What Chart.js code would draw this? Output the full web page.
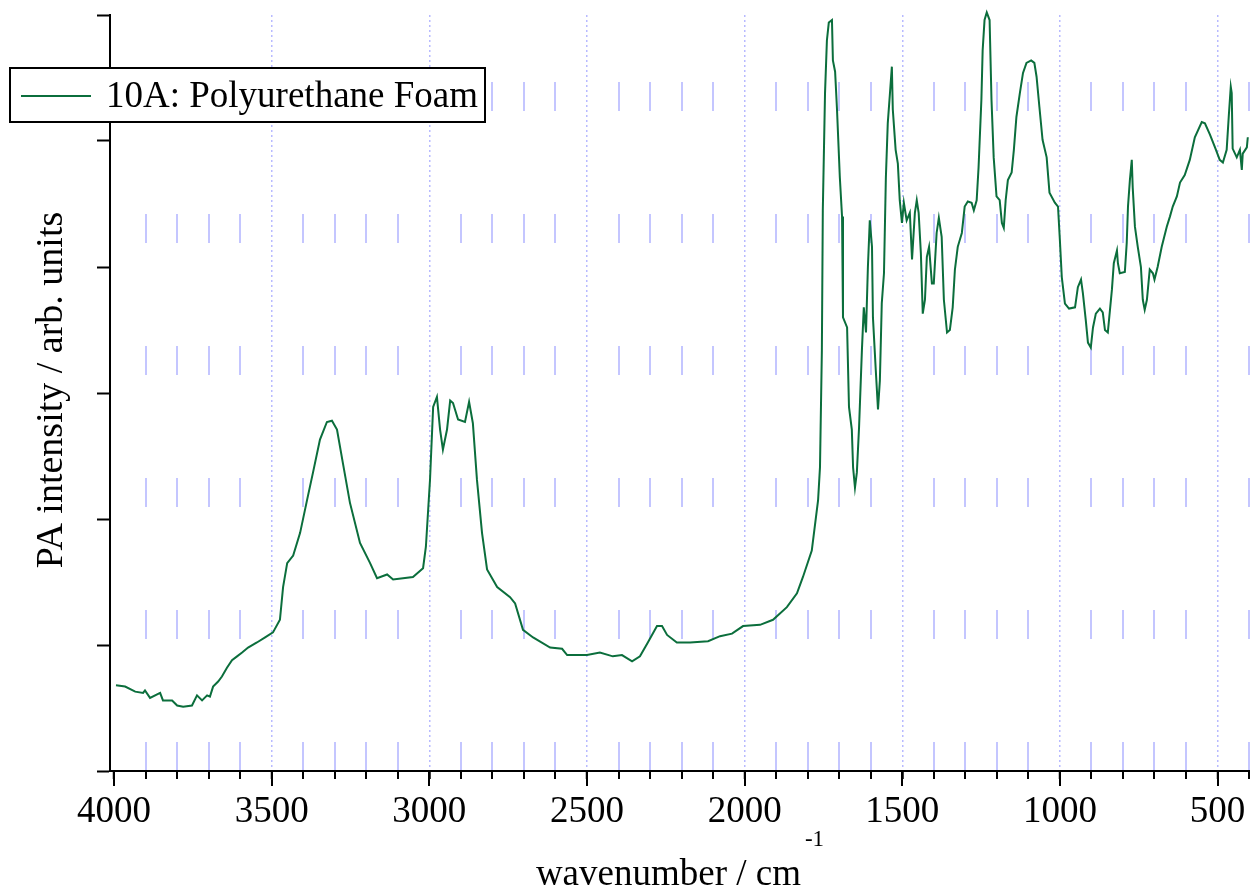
<!DOCTYPE html>
<html>
<head>
<meta charset="utf-8">
<script src="https://cdn.jsdelivr.net/npm/chart.js@4"></script>
<style>
  html, body { margin: 0; padding: 0; background: #fff; }
  #wrap { width: 1250px; height: 889px; position: relative; }
</style>
</head>
<body>
<div id="wrap"><canvas id="c" width="1250" height="889"></canvas></div>
<script>
// ---- data ----
const seriesLabel = '10A: Polyurethane Foam';
const xTitle = 'wavenumber / cm';
const xTitleSup = '-1';
const yTitle = 'PA intensity / arb. units';

const wavenumbers = [
  3994, 3965, 3933, 3908, 3902, 3886, 3854, 3845, 3816, 3800,
  3781, 3753, 3737, 3721, 3705, 3696, 3686, 3670, 3658, 3642,
  3626, 3610, 3594, 3575, 3547, 3521, 3496, 3474, 3464, 3451,
  3432, 3410, 3388, 3369, 3347, 3325, 3309, 3293, 3274, 3252,
  3220, 3188, 3166, 3134, 3115, 3052, 3020, 3011, 2998, 2988,
  2976, 2966, 2957, 2944, 2934, 2925, 2909, 2887, 2874, 2862,
  2849, 2833, 2817, 2785, 2744, 2728, 2703, 2671, 2617, 2579,
  2563, 2500, 2459, 2418, 2389, 2357, 2332, 2307, 2278, 2262,
  2246, 2215, 2173, 2116, 2078, 2040, 2005, 1951, 1910, 1866,
  1834, 1815, 1787, 1767, 1761, 1755, 1752, 1745, 1739, 1733,
  1723, 1720, 1713, 1707, 1698, 1691, 1688, 1675, 1669, 1660,
  1656, 1650, 1644, 1637, 1628, 1622, 1615, 1609, 1603, 1596,
  1593, 1584, 1577, 1571, 1565, 1558, 1552, 1546, 1539, 1533,
  1530, 1521, 1514, 1508, 1501, 1495, 1486, 1476, 1469, 1460,
  1454, 1448, 1441, 1435, 1428, 1422, 1415, 1406, 1400, 1391,
  1384, 1375, 1368, 1358, 1349, 1340, 1333, 1324, 1311, 1302,
  1292, 1280, 1273, 1264, 1258, 1249, 1245, 1239, 1232, 1223,
  1217, 1210, 1201, 1191, 1184, 1178, 1172, 1165, 1153, 1146,
  1138, 1127, 1117, 1106, 1091, 1081, 1074, 1065, 1055, 1042,
  1033, 1016, 1006, 1000, 994, 984, 971, 952, 943, 933,
  927, 918, 911, 902, 895, 886, 873, 864, 857, 848,
  835, 829, 819, 816, 810, 794, 788, 784, 778, 772,
  769, 762, 753, 743, 737, 731, 724, 715, 705, 700,
  690, 677, 661, 651, 642, 629, 619, 604, 588, 572,
  550, 540, 524, 508, 493, 483, 471, 464, 458, 455,
  452, 439, 429, 423, 420, 407, 404
];
const intensity = [
  0.68, 0.67, 0.63, 0.62, 0.64, 0.58, 0.62, 0.56, 0.56, 0.52,
  0.51, 0.52, 0.60, 0.56, 0.60, 0.59, 0.67, 0.71, 0.75, 0.82,
  0.88, 0.91, 0.94, 0.98, 1.02, 1.06, 1.10, 1.20, 1.46, 1.65,
  1.71, 1.89, 2.15, 2.37, 2.63, 2.77, 2.78, 2.71, 2.44, 2.13,
  1.81, 1.65, 1.53, 1.56, 1.52, 1.54, 1.61, 1.78, 2.31, 2.89,
  2.97, 2.71, 2.55, 2.71, 2.94, 2.92, 2.79, 2.77, 2.93, 2.76,
  2.31, 1.89, 1.60, 1.46, 1.38, 1.33, 1.12, 1.06, 0.98, 0.97,
  0.92, 0.92, 0.94, 0.91, 0.92, 0.87, 0.91, 1.02, 1.15, 1.15,
  1.08, 1.02, 1.02, 1.03, 1.07, 1.09, 1.15, 1.16, 1.20, 1.30,
  1.41, 1.54, 1.75, 2.15, 2.41, 3.34, 4.45, 5.38, 5.80, 5.94,
  5.96, 5.64, 5.55, 5.25, 4.71, 4.40, 3.60, 3.52, 2.89, 2.71,
  2.41, 2.25, 2.37, 2.73, 3.34, 3.68, 3.48, 4.00, 4.37, 4.16,
  3.60, 3.18, 2.87, 3.10, 3.71, 3.95, 4.71, 5.14, 5.38, 5.59,
  5.25, 4.93, 4.82, 4.53, 4.35, 4.51, 4.37, 4.43, 4.06, 4.43,
  4.53, 4.43, 4.11, 3.63, 3.74, 4.08, 4.16, 3.87, 3.87, 4.27,
  4.39, 4.24, 3.74, 3.48, 3.50, 3.68, 3.98, 4.16, 4.27, 4.48,
  4.52, 4.51, 4.45, 4.53, 4.79, 5.33, 5.72, 5.96, 6.02, 5.96,
  5.33, 4.87, 4.56, 4.53, 4.35, 4.31, 4.53, 4.69, 4.75, 4.93,
  5.19, 5.38, 5.54, 5.62, 5.64, 5.62, 5.51, 5.27, 5.01, 4.87,
  4.59, 4.51, 4.48, 4.21, 3.92, 3.71, 3.67, 3.68, 3.84, 3.90,
  3.79, 3.58, 3.40, 3.36, 3.52, 3.63, 3.67, 3.64, 3.50, 3.48,
  3.82, 4.03, 4.13, 4.03, 3.95, 3.96, 4.19, 4.48, 4.69, 4.85,
  4.63, 4.32, 4.16, 4.00, 3.74, 3.66, 3.74, 3.98, 3.95, 3.90,
  4.00, 4.16, 4.32, 4.40, 4.48, 4.56, 4.67, 4.73, 4.85, 5.03,
  5.15, 5.14, 5.05, 4.95, 4.85, 4.83, 4.93, 5.21, 5.43, 5.38,
  4.94, 4.87, 4.93, 4.77, 4.90, 4.95, 5.03
];
const xMin = 397, xMax = 4013, xStep = 100, xMajor = 500;
const yMin = 0, yMax = 6, yStep = 1;

// ---- styling ----
const FONT = '"Liberation Serif", "Times New Roman", serif';
const LINE = '#0b6e3c';
const GRID_BLUE = '#c4c6ff';

const points = wavenumbers.map((w, i) => ({ x: w, y: intensity[i] }));
const isMajor = v => Math.abs(v % xMajor) < 1e-6;
const showMajorGrid = v => isMajor(v) && v < 4000;

const extras = {
  id: 'extras',
  afterDraw(chart) {
    const ctx = chart.ctx;
    const xs = chart.scales.x;
    const area = chart.chartArea;
    ctx.save();
    // long ticks at major values
    ctx.strokeStyle = '#000';
    ctx.lineWidth = 2;
    xs.ticks.forEach(t => {
      if (isMajor(t.value)) {
        const px = Math.round(xs.getPixelForValue(t.value));
        ctx.beginPath();
        ctx.moveTo(px, area.bottom);
        ctx.lineTo(px, area.bottom + 15);
        ctx.stroke();
      }
    });
    // x title with superscript
    ctx.fillStyle = '#000';
    ctx.textBaseline = 'alphabetic';
    ctx.font = '37px ' + FONT;
    const w1 = ctx.measureText(xTitle).width;
    ctx.font = '23px ' + FONT;
    const w2 = ctx.measureText(xTitleSup).width;
    const cx = (area.left + area.right) / 2;
    const x0 = cx - (w1 + w2 + 4) / 2;
    ctx.font = '37px ' + FONT;
    ctx.fillText(xTitle, x0, 885);
    ctx.font = '23px ' + FONT;
    ctx.fillText(xTitleSup, x0 + w1 + 4, 846);
    // y title
    ctx.save();
    ctx.translate(52, 390);
    ctx.rotate(-Math.PI / 2);
    ctx.font = '38px ' + FONT;
    ctx.textAlign = 'center';
    ctx.textBaseline = 'middle';
    ctx.fillText(yTitle, 0, 0);
    ctx.restore();
    // legend box
    const ds = chart.data.datasets[0];
    ctx.fillStyle = '#fff';
    ctx.fillRect(10, 68, 475, 54);
    ctx.strokeStyle = '#000';
    ctx.lineWidth = 2;
    ctx.strokeRect(10, 68, 475, 54);
    ctx.strokeStyle = ds.borderColor;
    ctx.lineWidth = 2;
    ctx.beginPath();
    ctx.moveTo(21, 96);
    ctx.lineTo(91, 96);
    ctx.stroke();
    ctx.fillStyle = '#000';
    ctx.font = '37px ' + FONT;
    ctx.textAlign = 'left';
    ctx.textBaseline = 'alphabetic';
    ctx.fillText(ds.label, 106, 107);
    ctx.restore();
  }
};

new Chart(document.getElementById('c'), {
  type: 'line',
  data: {
    datasets: [{
      label: seriesLabel,
      data: points,
      borderColor: LINE,
      borderWidth: 2,
      pointRadius: 0,
      tension: 0,
      fill: false,
      clip: false
    }]
  },
  options: {
    responsive: false,
    animation: false,
    events: [],
    layout: { padding: { top: 15, right: 0, left: 0, bottom: 0 } },
    plugins: { legend: { display: false }, tooltip: { enabled: false } },
    scales: {
      x: {
        type: 'linear',
        reverse: true,
        min: xMin,
        max: xMax,
        afterFit(s) { s.height = 118; s.paddingLeft = 0; s.paddingRight = 0; },
        ticks: {
          stepSize: xStep,
          includeBounds: false,
          autoSkip: false,
          maxRotation: 0,
          color: '#000',
          padding: 11,
          font: { family: FONT, size: 37 },
          callback: v => (isMajor(v) ? String(v) : '')
        },
        grid: {
          color: ctx => {
            if (!ctx.tick) return GRID_BLUE;
            if (isMajor(ctx.tick.value)) return showMajorGrid(ctx.tick.value) ? '#b8baff' : 'rgba(0,0,0,0)';
            return GRID_BLUE;
          },
          lineWidth: ctx => (ctx.tick && isMajor(ctx.tick.value)) ? 1.5 : 2,
          tickColor: '#000',
          tickWidth: 2,
          tickLength: 8
        },
        border: {
          display: true,
          color: '#000',
          width: 2,
          dash: ctx => (ctx.tick && isMajor(ctx.tick.value)) ? [2, 3] : [29, 103],
          dashOffset: ctx => (ctx.tick && isMajor(ctx.tick.value)) ? 0 : 65
        }
      },
      y: {
        min: yMin,
        max: yMax,
        afterFit(s) { s.width = 110; },
        ticks: { stepSize: yStep, display: false },
        grid: {
          drawOnChartArea: false,
          tickColor: '#000',
          tickWidth: 2,
          tickLength: 13
        },
        border: { display: true, color: '#000', width: 2 }
      }
    }
  },
  plugins: [extras]
});
</script>
</body>
</html>
